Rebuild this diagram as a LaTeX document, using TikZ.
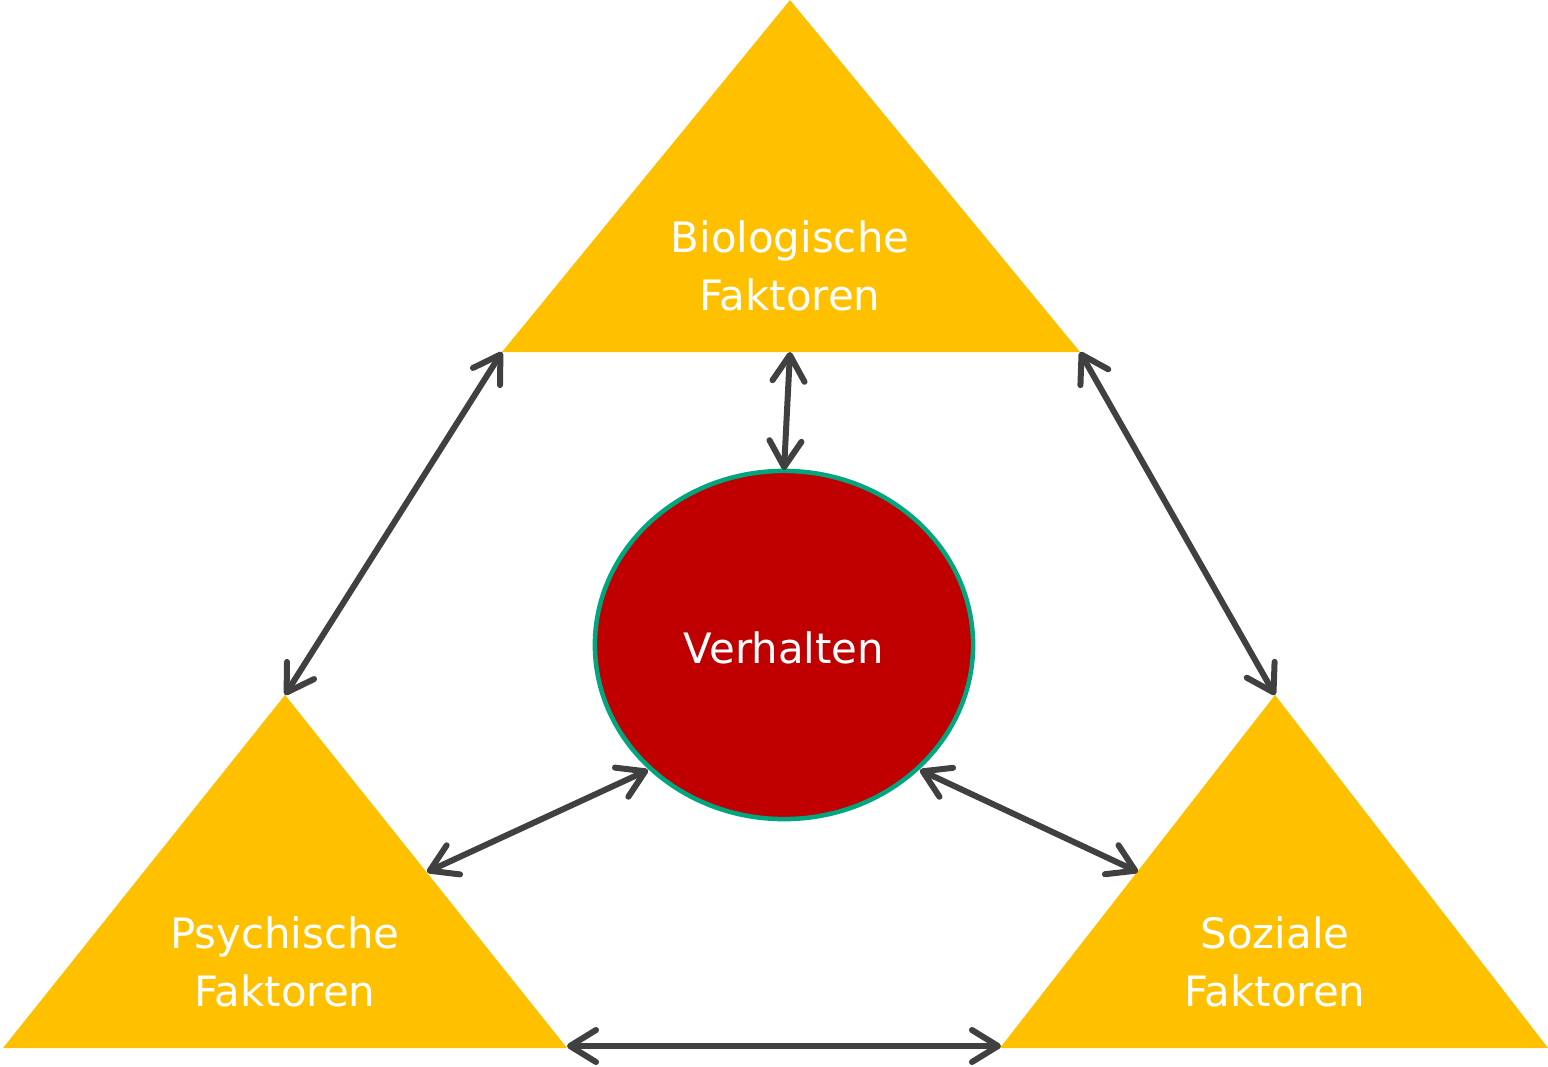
\documentclass[tikz,border=0pt]{standalone}
\usepackage{fontspec}
\setmainfont{DejaVu Sans}
\usetikzlibrary{arrows.meta,shapes.geometric}
\definecolor{tri}{HTML}{FFC000}
\definecolor{core}{HTML}{C00000}
\definecolor{rim}{HTML}{00A67E}
\definecolor{conn}{HTML}{404040}
\tikzset{
  tribox/.style={fill=tri, draw=none},
  lbl/.style={text=white, align=center, font=\fontsize{11.9pt}{16.5pt}\selectfont, inner sep=0pt},
  link/.style={draw=conn, line width=0.06cm, line cap=round,
    {Straight Barb[length=0.26cm, width=0.32cm, round]}-{Straight Barb[length=0.26cm, width=0.32cm, round]}}
}
\begin{document}
\begin{tikzpicture}[x=0.01cm, y=-0.01cm]
\useasboundingbox (0,0) rectangle (1548,1066);
% corners
\coordinate (Ba) at (790,0);
\coordinate (Bl) at (502,352);
\coordinate (Br) at (1080,352);
\coordinate (Bm) at (790,352);
\coordinate (Pa) at (285,695);
\coordinate (Pl) at (3,1048);
\coordinate (Pr) at (567,1048);
\coordinate (Sa) at (1275,695);
\coordinate (Sl) at (1000,1048);
\coordinate (Sr) at (1548,1048);
\coordinate (Pm) at (427,872);
\coordinate (Sm) at (1138,872);
\coordinate (Pb) at (567,1046);
\coordinate (Sb) at (1001,1046);
% triangles
\fill[tribox] (Ba) -- (Br) -- (Bl) -- cycle;
\fill[tribox] (Pa) -- (Pr) -- (Pl) -- cycle;
\fill[tribox] (Sa) -- (Sr) -- (Sl) -- cycle;
\node[lbl] (bio) at (790,266) {Biologische\\Faktoren};
\node[lbl] (psy) at (285,962) {Psychische\\Faktoren};
\node[lbl] (soz) at (1275,962) {Soziale\\Faktoren};
% ellipse
\node[ellipse, draw=rim, fill=core, line width=0.045cm, minimum width=3.78cm, minimum height=3.48cm, inner sep=0pt] (verh) at (784,645) {};
\node[lbl] (verhtxt) at (784,648) {Verhalten};
\coordinate (Et) at (784,470);
\coordinate (El) at (648,770);
\coordinate (Er) at (920,770);
% connectors
\draw[link] (Bl) -- (Pa);
\draw[link] (Br) -- (Sa);
\draw[link] (Bm) -- (Et);
\draw[link] (Pm) -- (El);
\draw[link] (Sm) -- (Er);
\draw[link] (Pb) -- (Sb);
\end{tikzpicture}
\end{document}
